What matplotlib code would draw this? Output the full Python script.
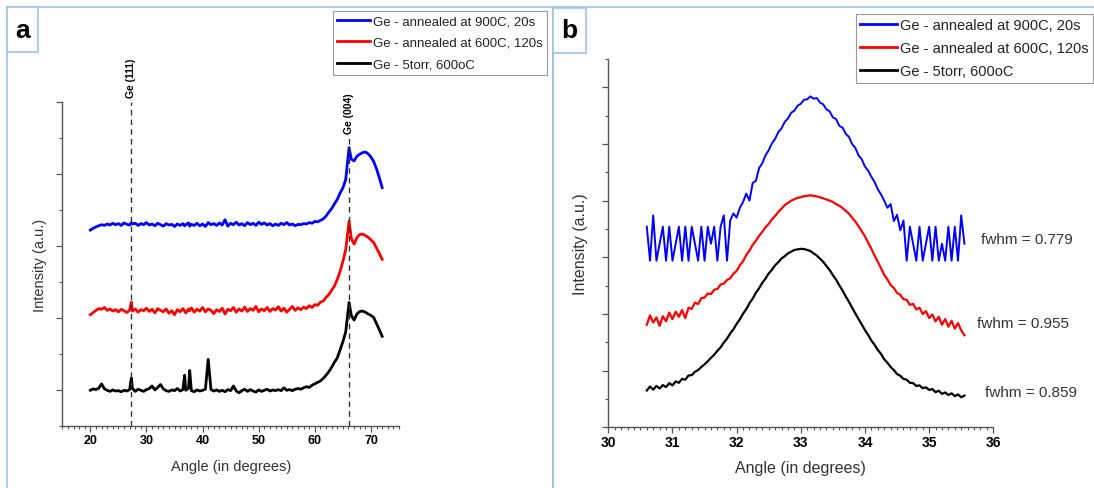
import matplotlib
matplotlib.use("Agg")
import matplotlib.pyplot as plt
from matplotlib.patches import Rectangle
from matplotlib.ticker import MultipleLocator, NullFormatter

plt.rcParams['font.family'] = ['Liberation Sans', 'DejaVu Sans']

W, H = 1094, 489

LABELS = ["Ge - annealed at 900C, 20s", "Ge - annealed at 600C, 120s", "Ge - 5torr, 600oC"]
COLORS = ["#0000ff", "#ff0000", "#000000"]

# ---- panel a : wide scan ----
ANGLE_A = [
    20.0, 20.5, 21.0, 21.5, 22.0, 22.5, 23.0, 23.5, 24.0, 24.5,
    25.0, 25.5, 26.0, 26.5, 27.0, 27.3, 27.5, 28.0, 28.5, 29.0,
    29.5, 30.0, 30.5, 31.0, 31.5, 32.0, 32.5, 33.0, 33.5, 34.0,
    34.5, 35.0, 35.5, 36.0, 36.5, 36.8, 37.0, 37.5, 37.7, 38.0,
    38.5, 39.0, 39.5, 40.0, 40.5, 41.0, 41.5, 42.0, 42.5, 43.0,
    43.5, 44.0, 44.5, 45.0, 45.5, 46.0, 46.5, 47.0, 47.5, 48.0,
    48.5, 49.0, 49.5, 50.0, 50.5, 51.0, 51.5, 52.0, 52.5, 53.0,
    53.5, 54.0, 54.5, 55.0, 55.5, 56.0, 56.5, 57.0, 57.5, 58.0,
    58.5, 59.0, 59.5, 60.0, 60.5, 61.0, 61.5, 62.0, 62.5, 63.0,
    63.5, 64.0, 64.5, 65.0, 65.5, 66.1, 66.5, 67.0, 67.5, 68.0,
    68.5, 69.0, 69.5, 70.0, 70.5, 71.0, 71.5, 72.0,
]
BLACK_A = [
    1.00, 1.04, 1.02, 1.06, 1.18, 1.04, 1.00, 0.97, 1.01, 0.98,
    0.99, 0.96, 1.00, 0.98, 1.02, 1.34, 1.05, 0.97, 1.03, 1.00,
    0.97, 1.02, 1.05, 1.12, 1.01, 1.08, 1.16, 1.04, 0.99, 0.97,
    1.01, 0.99, 1.05, 0.98, 1.02, 1.42, 1.00, 1.06, 1.55, 0.99,
    0.96, 1.01, 0.98, 1.00, 1.03, 1.86, 1.02, 0.98, 1.01, 0.97,
    1.00, 0.96, 1.02, 0.99, 1.12, 0.98, 0.93, 0.99, 1.03, 0.97,
    1.02, 0.98, 0.95, 1.01, 0.97, 1.00, 1.03, 0.98, 1.01, 0.99,
    1.02, 0.99, 1.07, 1.00, 1.02, 0.99, 1.03, 1.05, 1.03, 1.07,
    1.10, 1.08, 1.14, 1.18, 1.22, 1.26, 1.33, 1.42, 1.52, 1.64,
    1.78, 1.90, 2.12, 2.35, 2.62, 3.44, 3.08, 2.95, 3.12, 3.19,
    3.20, 3.17, 3.12, 3.08, 3.02, 2.85, 2.68, 2.50,
]
RED_A = [
    3.10, 3.16, 3.22, 3.27, 3.25, 3.30, 3.22, 3.26, 3.20, 3.24,
    3.18, 3.25, 3.21, 3.16, 3.23, 3.45, 3.20, 3.26, 3.17, 3.24,
    3.21, 3.28, 3.19, 3.25, 3.15, 3.27, 3.22, 3.18, 3.26, 3.14,
    3.21, 3.10, 3.24, 3.18, 3.27, 3.20, 3.15, 3.26, 3.21, 3.29,
    3.17, 3.25, 3.20, 3.30, 3.18, 3.26, 3.22, 3.13, 3.24, 3.19,
    3.28, 3.12, 3.25, 3.21, 3.30, 3.17, 3.26, 3.20, 3.31, 3.19,
    3.27, 3.22, 3.33, 3.18, 3.26, 3.21, 3.30, 3.19, 3.27, 3.23,
    3.32, 3.20, 3.28, 3.17, 3.25, 3.33, 3.22, 3.29, 3.24, 3.31,
    3.27, 3.35, 3.30, 3.38, 3.36, 3.45, 3.48, 3.58, 3.66, 3.78,
    3.90, 4.08, 4.30, 4.58, 4.90, 5.70, 5.22, 5.06, 5.24, 5.33,
    5.34, 5.30, 5.25, 5.18, 5.10, 4.95, 4.80, 4.64,
]
BLUE_A = [
    5.45, 5.50, 5.54, 5.57, 5.60, 5.58, 5.62, 5.59, 5.64, 5.60,
    5.63, 5.58, 5.65, 5.61, 5.59, 5.66, 5.62, 5.64, 5.58, 5.63,
    5.60, 5.66, 5.59, 5.62, 5.57, 5.64, 5.60, 5.56, 5.63, 5.59,
    5.61, 5.55, 5.62, 5.58, 5.63, 5.57, 5.60, 5.65, 5.56, 5.61,
    5.58, 5.64, 5.57, 5.62, 5.55, 5.66, 5.60, 5.63, 5.58, 5.65,
    5.59, 5.74, 5.56, 5.64, 5.60, 5.67, 5.59, 5.63, 5.57, 5.66,
    5.60, 5.64, 5.58, 5.67, 5.61, 5.65, 5.59, 5.63, 5.57, 5.62,
    5.58, 5.64, 5.60, 5.66, 5.59, 5.62, 5.57, 5.61, 5.60, 5.63,
    5.62, 5.66, 5.64, 5.69, 5.68, 5.72, 5.76, 5.84, 5.95, 6.05,
    6.18, 6.30, 6.48, 6.62, 6.85, 7.74, 7.42, 7.37, 7.50, 7.56,
    7.60, 7.62, 7.57, 7.48, 7.35, 7.15, 6.90, 6.63,
]
PEAKS_A = [27.3, 66.1]
PEAK_NAMES = ["Ge (111)", "Ge (004)"]
PEAK_TOPS = [9.0, 8.0]

# ---- panel b : zoom around 33 deg ----
ANGLE_B = [
    30.60, 30.65, 30.70, 30.75, 30.80, 30.85, 30.90, 30.95, 31.00, 31.05,
    31.10, 31.15, 31.20, 31.25, 31.30, 31.35, 31.40, 31.45, 31.50, 31.55,
    31.60, 31.65, 31.70, 31.75, 31.80, 31.85, 31.90, 31.95, 32.00, 32.05,
    32.10, 32.15, 32.20, 32.25, 32.30, 32.35, 32.40, 32.45, 32.50, 32.55,
    32.60, 32.65, 32.70, 32.75, 32.80, 32.85, 32.90, 32.95, 33.00, 33.05,
    33.10, 33.15, 33.20, 33.25, 33.30, 33.35, 33.40, 33.45, 33.50, 33.55,
    33.60, 33.65, 33.70, 33.75, 33.80, 33.85, 33.90, 33.95, 34.00, 34.05,
    34.10, 34.15, 34.20, 34.25, 34.30, 34.35, 34.40, 34.45, 34.50, 34.55,
    34.60, 34.65, 34.70, 34.75, 34.80, 34.85, 34.90, 34.95, 35.00, 35.05,
    35.10, 35.15, 35.20, 35.25, 35.30, 35.35, 35.40, 35.45, 35.50, 35.55,
]
BLUE_B = [
    7.08, 5.88, 7.48, 5.88, 6.48, 7.08, 5.88, 7.08, 5.88, 6.48,
    7.08, 5.88, 7.08, 5.88, 7.08, 6.48, 5.88, 7.08, 5.88, 7.08,
    6.48, 7.08, 5.88, 7.08, 7.48, 5.88, 7.30, 7.55, 7.40, 7.75,
    7.95, 8.25, 8.00, 8.62, 8.70, 9.15, 9.32, 9.60, 9.78, 10.02,
    10.18, 10.42, 10.55, 10.78, 10.90, 11.10, 11.18, 11.35, 11.42, 11.56,
    11.58, 11.68, 11.60, 11.62, 11.46, 11.40, 11.22, 11.15, 10.94, 10.88,
    10.64, 10.58, 10.36, 10.25, 10.00, 9.86, 9.60, 9.46, 9.20, 9.06,
    8.84, 8.66, 8.40, 8.22, 8.00, 7.75, 7.88, 7.28, 7.50, 6.95,
    7.30, 5.88, 7.08, 6.48, 5.88, 7.08, 5.88, 6.48, 7.08, 5.88,
    7.08, 5.88, 6.48, 5.88, 7.08, 5.88, 7.08, 5.88, 7.48, 6.48,
]
RED_B = [
    3.62, 3.95, 3.70, 3.88, 3.58, 3.92, 3.74, 4.05, 3.82, 4.08,
    3.90, 4.14, 3.85, 4.22, 4.18, 4.40, 4.35, 4.56, 4.58, 4.72,
    4.70, 4.86, 4.88, 5.04, 5.07, 5.20, 5.26, 5.42, 5.52, 5.72,
    5.86, 6.08, 6.24, 6.44, 6.58, 6.76, 6.90, 7.06, 7.18, 7.34,
    7.46, 7.60, 7.72, 7.84, 7.92, 8.00, 8.05, 8.10, 8.12, 8.16,
    8.17, 8.19, 8.17, 8.15, 8.12, 8.08, 8.04, 8.00, 7.95, 7.88,
    7.82, 7.74, 7.64, 7.54, 7.40, 7.26, 7.10, 6.92, 6.74, 6.52,
    6.30, 6.06, 5.84, 5.62, 5.38, 5.22, 5.02, 4.92, 4.74, 4.68,
    4.52, 4.50, 4.32, 4.36, 4.16, 4.22, 4.00, 4.10, 3.86, 3.98,
    3.74, 3.90, 3.62, 3.82, 3.55, 3.76, 3.48, 3.68, 3.42, 3.25,
]
BLACK_B = [
    1.30, 1.44, 1.33, 1.46, 1.37, 1.49, 1.42, 1.56, 1.48, 1.62,
    1.57, 1.71, 1.68, 1.83, 1.84, 1.96, 2.02, 2.13, 2.22, 2.33,
    2.45, 2.56, 2.70, 2.82, 2.99, 3.13, 3.31, 3.46, 3.65, 3.81,
    4.01, 4.17, 4.38, 4.54, 4.75, 4.91, 5.10, 5.25, 5.43, 5.56,
    5.72, 5.83, 5.96, 6.04, 6.14, 6.20, 6.26, 6.28, 6.30, 6.29,
    6.26, 6.22, 6.14, 6.06, 5.95, 5.84, 5.69, 5.55, 5.37, 5.21,
    5.01, 4.83, 4.62, 4.43, 4.22, 4.02, 3.82, 3.63, 3.43, 3.26,
    3.06, 2.91, 2.73, 2.59, 2.40, 2.28, 2.13, 2.02, 1.88, 1.82,
    1.71, 1.68, 1.57, 1.56, 1.46, 1.48, 1.38, 1.41, 1.32, 1.35,
    1.24, 1.29, 1.18, 1.23, 1.14, 1.20, 1.10, 1.16, 1.06, 1.12,
]
FWHM_TEXT = ["fwhm = 0.779", "fwhm = 0.955", "fwhm = 0.859"]
FWHM_POS = [(35.81, 6.65), (35.75, 3.69), (35.87, 1.25)]

BORDER = "#9dc3e6"
SPINE = "#555555"


def px_axes(fig, left, top, right, bottom):
    return fig.add_axes([left / W, 1 - bottom / H, (right - left) / W, (bottom - top) / H])


def style_axes(ax, fs_tick):
    for s in ("top", "right"):
        ax.spines[s].set_visible(False)
    for s in ("left", "bottom"):
        ax.spines[s].set_color(SPINE)
        ax.spines[s].set_linewidth(1.0)
    ax.tick_params(which="major", length=4.2, width=0.9, color=SPINE, direction="out",
                   labelsize=fs_tick, pad=1.5)
    ax.tick_params(which="minor", length=2.3, width=0.8, color=SPINE, direction="out")
    ax.yaxis.set_major_formatter(NullFormatter())
    for lab in ax.get_xticklabels():
        lab.set_fontweight("bold")
    ax.patch.set_alpha(0)


def add_legend(ax, anchor, fs, spacing):
    leg = ax.legend(loc="upper left", bbox_to_anchor=anchor, bbox_transform=fig.transFigure,
                    fontsize=fs, handlelength=2.5, handletextpad=0.25, borderpad=0.3,
                    borderaxespad=0, labelspacing=spacing, frameon=True, fancybox=False,
                    edgecolor="#999999", framealpha=1)
    leg.get_frame().set_linewidth(0.8)
    for line in leg.get_lines():
        line.set_linewidth(2.0)
    for t in leg.get_texts():
        t.set_color("#222222")


fig = plt.figure(figsize=(W / 100, H / 100), dpi=100)

# panel frames and letter boxes
fig.add_artist(Rectangle((6.7 / W, -0.1), (553.3 - 6.7) / W, 1.1 - 8 / H,
                         transform=fig.transFigure, fill=False, ec=BORDER, lw=1.2))
fig.add_artist(Rectangle((553.3 / W, -0.1), 1.0, 1.1 - 8 / H,
                         transform=fig.transFigure, fill=False, ec=BORDER, lw=1.2))
for (l, t, r, b), letter in (((7.3, 8.3, 37.7, 53.3), "a"), ((553.3, 8.6, 586, 54), "b")):
    fig.add_artist(Rectangle((l / W, 1 - b / H), (r - l) / W, (b - t) / H,
                             transform=fig.transFigure, fill=True, fc="white", ec=BORDER, lw=1.2))
    fig.text((l + r) / 2 / W, 1 - (t + b) / 2 / H, letter, ha="center", va="center",
             fontsize=19, fontweight="bold")

# ---- panel a ----
ax = px_axes(fig, 62.3, 103.3, 399, 427.3)
ax.plot(ANGLE_A, BLUE_A, color=COLORS[0], lw=2.0, label=LABELS[0])
ax.plot(ANGLE_A, RED_A, color=COLORS[1], lw=2.0, label=LABELS[1])
ax.plot(ANGLE_A, BLACK_A, color=COLORS[2], lw=2.0, label=LABELS[2])
for xp, name, top in zip(PEAKS_A, PEAK_NAMES, PEAK_TOPS):
    ax.plot([xp, xp], [0, top], color="#333333", lw=1.0, ls=(0, (4, 3)))
    ax.text(xp, top + 0.15, name, rotation=90, ha="center", va="bottom",
            fontsize=7.5, fontweight="bold", clip_on=False)
ax.set_xlim(15, 75)
ax.set_ylim(0, 9)
ax.set_xticks([20, 30, 40, 50, 60, 70])
ax.xaxis.set_minor_locator(MultipleLocator(1))
ax.yaxis.set_major_locator(MultipleLocator(2, offset=1))
ax.yaxis.set_minor_locator(MultipleLocator(1))
style_axes(ax, 9)
ax.set_xlabel("Angle (in degrees)", fontsize=10.5, color="#333333", labelpad=9)
ax.set_ylabel("Intensity (a.u.)", fontsize=10.5, color="#333333", labelpad=5)
add_legend(ax, (333 / W, 1 - 12 / H), 9.5, 0.72)

# ---- panel b ----
bx = px_axes(fig, 608.3, 60, 993.3, 428.3)
bx.plot(ANGLE_B, BLUE_B, color=COLORS[0], lw=1.4, label=LABELS[0])
bx.plot(ANGLE_B, RED_B, color=COLORS[1], lw=1.6, label=LABELS[1])
bx.plot(ANGLE_B, BLACK_B, color=COLORS[2], lw=1.6, label=LABELS[2])
for txt, (xp, yp) in zip(FWHM_TEXT, FWHM_POS):
    bx.text(xp, yp, txt, ha="left", va="center", fontsize=11, color="#333333", clip_on=False)
bx.set_xlim(30, 36)
bx.set_ylim(0, 13)
bx.xaxis.set_major_locator(MultipleLocator(1))
bx.xaxis.set_minor_locator(MultipleLocator(0.1))
bx.yaxis.set_major_locator(MultipleLocator(2))
bx.yaxis.set_minor_locator(MultipleLocator(1))
style_axes(bx, 10)
bx.set_xlabel("Angle (in degrees)", fontsize=11.5, color="#333333", labelpad=8)
bx.set_ylabel("Intensity (a.u.)", fontsize=11.5, color="#333333", labelpad=9)
add_legend(bx, (856 / W, 1 - 15 / H), 10.5, 0.62)

fig.savefig("out.png", dpi=100)
